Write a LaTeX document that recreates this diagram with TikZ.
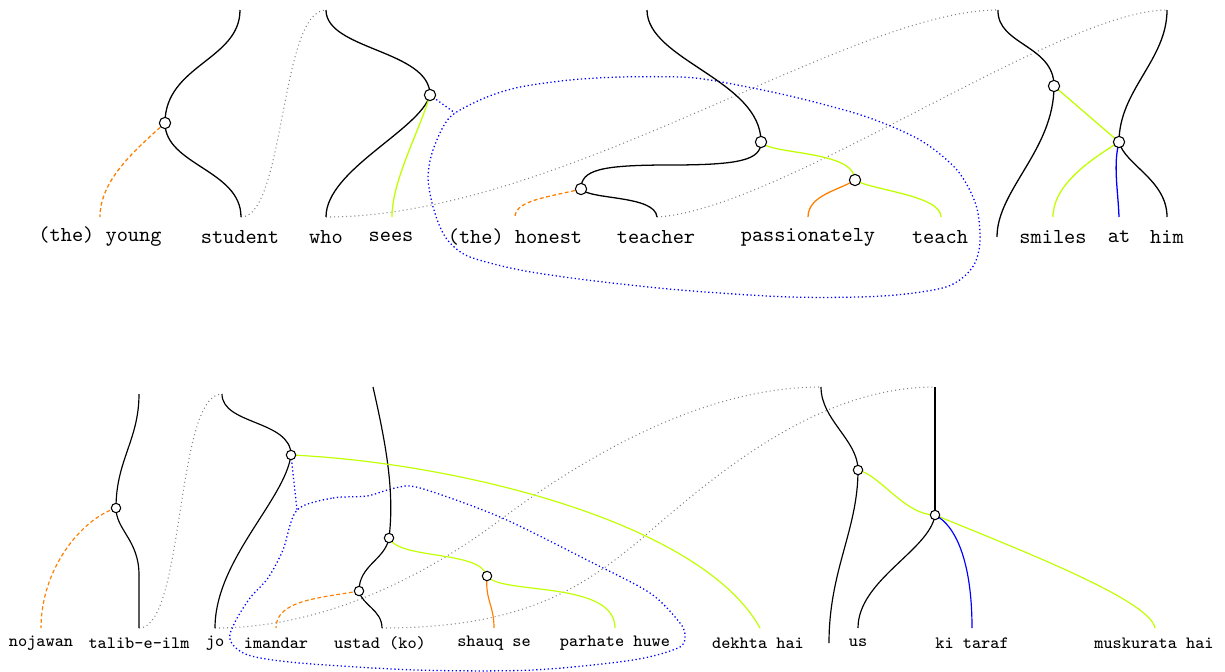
\documentclass[tikz,border=0pt]{standalone}
\begin{document}
\begin{tikzpicture}[x=0.469pt,y=-0.469pt,
  wire/.style={draw=black,line width=0.6pt},
  wireb/.style={draw=black,line width=0.55pt},
  lm/.style={draw=lime,line width=0.6pt},
  lmb/.style={draw=lime,line width=0.55pt},
  org/.style={draw=orange,line width=0.6pt},
  orgb/.style={draw=orange,line width=0.55pt},
  blu/.style={draw=blue,line width=0.6pt},
  blub/.style={draw=blue,line width=0.55pt},
  gdot/.style={draw=gray,line width=0.5pt,dash pattern=on 0.45pt off 1.45pt},
  bdot/.style={draw=blue,line width=0.6pt,dash pattern=on 0.6pt off 1.2pt},
  odash/.style={draw=orange,line width=0.6pt,dash pattern=on 1.8pt off 1.2pt},
  dotT/.style={circle,draw=black,fill=white,line width=0.5pt,inner sep=0pt,minimum size=5.3pt},
  dotB/.style={circle,draw=black,fill=white,line width=0.5pt,inner sep=0pt,minimum size=4.4pt},
  wordT/.style={font=\ttfamily\fontsize{10}{12}\selectfont,inner sep=0pt},
  wordB/.style={font=\ttfamily\fontsize{8.1}{10}\selectfont,inner sep=0pt},
]
\useasboundingbox (0,0) rectangle (1225,671);

% ================= TOP =================
\coordinate (T1) at (240,10);
\coordinate (T2) at (326,10);
\coordinate (T3) at (647,10);
\coordinate (T4) at (998,10);
\coordinate (T5) at (1167,10);
\coordinate (Byoung) at (100,217);
\coordinate (Bstudent) at (241,217);
\coordinate (Bwho) at (326,217);
\coordinate (Bsees) at (392,217);
\coordinate (Bhonest) at (515,217);
\coordinate (Bteacher) at (657,217);
\coordinate (Bpass) at (808,217);
\coordinate (Bteach) at (941,217);
\coordinate (Bsmiles) at (1053,217);
\coordinate (Bat) at (1119,217);
\coordinate (Bhim) at (1167,217);
\coordinate (Bout) at (997,237);
\coordinate (c1) at (165,123);
\coordinate (c2) at (430,95);
\coordinate (c3) at (761,142);
\coordinate (c4) at (581,189);
\coordinate (c5) at (855,180);
\coordinate (c6) at (1054,86);
\coordinate (c7) at (1119,142);
\coordinate (J1) at (455,113);

% dotted gray links
\draw[gdot] (Bstudent) .. controls (285,217) and (280,10) .. (T2);
\draw[gdot] (Bwho) .. controls (560,217) and (850,10) .. (T4);
\draw[gdot] (Bteacher) .. controls (780,210) and (1060,10) .. (T5);

% blue loop
\draw[bdot] (c2) -- (J1);
\draw[bdot] plot[smooth cycle] coordinates {(455,113) (487,97) (520,87) (570,80) (620,77) (680,77) (716,81) (790,96) (864,116) (920,140) (957,170) (976,205) (980,242) (972,268) (946,287) (883,296) (790,297) (680,290) (587,280) (520,270) (470,257) (450,243) (440,227) (432,203) (428,177) (432,153) (443,127)};

% black wires
\draw[wire] (T1) .. controls (240,60) and (165,65) .. (c1) .. controls (165,165) and (241,170) .. (Bstudent);
\draw[wire] (T2) .. controls (326,50) and (430,50) .. (c2) .. controls (420,130) and (326,170) .. (Bwho);
\draw[wire] (T3) .. controls (647,60) and (761,80) .. (c3);
\draw[wire] (c3) .. controls (761,160) and (740,165) .. (670,165) .. controls (600,165) and (581,170) .. (c4);
\draw[wire] (c4) .. controls (590,200) and (655,195) .. (Bteacher);
\draw[wire] (T4) .. controls (997,45) and (1054,45) .. (c6) .. controls (1054,150) and (997,190) .. (Bout);
\draw[wire] (T5) .. controls (1167,60) and (1119,90) .. (c7) .. controls (1125,165) and (1167,180) .. (Bhim);

% coloured links
\draw[odash] (c1) .. controls (135,150) and (100,180) .. (Byoung);
\draw[lm] (c2) .. controls (420,130) and (392,180) .. (Bsees);
\draw[odash] (c4) .. controls (550,197) and (515,200) .. (Bhonest);
\draw[lm] (c3) .. controls (770,155) and (855,150) .. (c5);
\draw[lm] (c5) .. controls (870,190) and (941,195) .. (Bteach);
\draw[org] (c5) .. controls (840,190) and (808,195) .. (Bpass);
\draw[lm] (c6) -- (c7);
\draw[lm] (c7) .. controls (1090,160) and (1053,185) .. (Bsmiles);
\draw[blu] (c7) .. controls (1113,165) and (1118,190) .. (Bat);

\node[dotT] (n1) at (c1) {};
\node[dotT] (n2) at (c2) {};
\node[dotT] (n3) at (c3) {};
\node[dotT] (n4) at (c4) {};
\node[dotT] (n5) at (c5) {};
\node[dotT] (n6) at (c6) {};
\node[dotT] (n7) at (c7) {};

\node[wordT] (wyoung) at (100,237) {(the) young};
\node[wordT] (wstudent) at (240,237) {student};
\node[wordT] (wwho) at (326,237) {who};
\node[wordT] (wsees) at (391,237) {sees};
\node[wordT] (whonest) at (515,237) {(the) honest};
\node[wordT] (wteacher) at (656,237) {teacher};
\node[wordT] (wpass) at (808,237) {passionately};
\node[wordT] (wteach) at (940,237) {teach};
\node[wordT] (wsmiles) at (1053,237) {smiles};
\node[wordT] (wat) at (1119,237) {at};
\node[wordT] (whim) at (1167,237) {him};

% ================= BOTTOM =================
\coordinate (U1) at (139,394);
\coordinate (U2) at (222,394);
\coordinate (U3) at (373,387);
\coordinate (U4) at (821,387);
\coordinate (U5) at (935,387);
\coordinate (Bnoj) at (41,628);
\coordinate (Btal) at (139,628);
\coordinate (Bjo) at (215,628);
\coordinate (Bima) at (276,628);
\coordinate (Bust) at (382,628);
\coordinate (Bsha) at (494,628);
\coordinate (Bpar) at (615,628);
\coordinate (Bdek) at (760,628);
\coordinate (Bus) at (858,628);
\coordinate (Bki) at (972,628);
\coordinate (Bmus) at (1155,628);
\coordinate (Bout2) at (829,643);
\coordinate (d1) at (116,508);
\coordinate (d2) at (291,455);
\coordinate (d3) at (389,538);
\coordinate (d4) at (359,591);
\coordinate (d5) at (487,576);
\coordinate (d6) at (858,470);
\coordinate (d7) at (935,515);
\coordinate (J2) at (297,510);

\draw[gdot] (Btal) .. controls (185,628) and (175,394) .. (U2);
\draw[gdot] (Bjo) .. controls (320,628) and (420,580) .. (500,520) .. controls (580,460) and (700,387) .. (U4);
\draw[gdot] (Bust) .. controls (520,628) and (580,590) .. (640,540) .. controls (720,470) and (820,387) .. (U5);

\draw[bdot] (d2) -- (J2);
\draw[bdot] plot[smooth cycle] coordinates {(297,510) (333,498) (367,496) (395,488) (420,488) (500,517) (587,560) (650,593) (680,623) (685,637) (678,648) (633,660) (533,670) (417,670) (300,663) (248,655) (230,640) (235,622) (250,598) (268,578) (283,550)};

\draw[wireb] (U1) .. controls (139,440) and (116,460) .. (d1) .. controls (116,530) and (139,540) .. (139,575) -- (Btal);
\draw[wireb] (U2) .. controls (222,425) and (291,420) .. (d2) .. controls (285,500) and (215,560) .. (Bjo);
\draw[wireb] (U3) .. controls (385,440) and (395,490) .. (d3) .. controls (385,560) and (359,565) .. (d4) .. controls (362,605) and (382,610) .. (Bust);
\draw[wireb] (U4) .. controls (821,420) and (858,440) .. (d6) .. controls (858,530) and (829,570) .. (Bout2);
\draw[wireb] (U5) -- (d7);
\draw[wireb] (d7) .. controls (930,550) and (858,580) .. (Bus);

\draw[odash,line width=0.55pt] (d1) .. controls (80,520) and (41,570) .. (Bnoj);
\draw[lmb] (d2) .. controls (450,462) and (700,520) .. (Bdek);
\draw[odash,line width=0.55pt] (d4) .. controls (320,598) and (276,600) .. (Bima);
\draw[lmb] (d3) .. controls (400,560) and (480,550) .. (d5);
\draw[orgb] (d5) .. controls (485,600) and (494,605) .. (Bsha);
\draw[lmb] (d5) .. controls (500,595) and (615,580) .. (Bpar);
\draw[lmb] (d6) .. controls (880,475) and (905,515) .. (d7);
\draw[lmb] (d7) .. controls (1020,550) and (1150,600) .. (Bmus);
\draw[blub] (d7) .. controls (955,525) and (972,560) .. (Bki);

\node[dotB] (m1) at (d1) {};
\node[dotB] (m2) at (d2) {};
\node[dotB] (m3) at (d3) {};
\node[dotB] (m4) at (d4) {};
\node[dotB] (m5) at (d5) {};
\node[dotB] (m6) at (d6) {};
\node[dotB] (m7) at (d7) {};

\node[wordB] (vnoj) at (41,643) {nojawan};
\node[wordB] (vtal) at (139,643) {talib-e-ilm};
\node[wordB] (vjo) at (215,643) {jo};
\node[wordB] (vima) at (276,643) {imandar};
\node[wordB] (vust) at (380,643) {ustad (ko)};
\node[wordB] (vsha) at (494,643) {shauq se};
\node[wordB] (vpar) at (615,643) {parhate huwe};
\node[wordB] (vdek) at (758,643) {dekhta hai};
\node[wordB] (vus) at (858,643) {us};
\node[wordB] (vki) at (972,643) {ki taraf};
\node[wordB] (vmus) at (1154,643) {muskurata hai};
\end{tikzpicture}
\end{document}
